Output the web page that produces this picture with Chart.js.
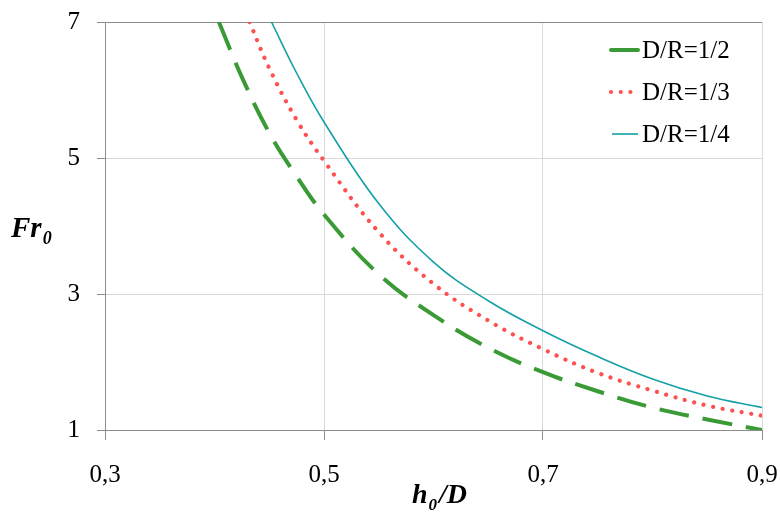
<!DOCTYPE html>
<html>
<head>
<meta charset="utf-8">
<script src="https://cdn.jsdelivr.net/npm/chart.js@4.4.1/dist/chart.umd.min.js"></script>
<style>
  html, body { margin: 0; padding: 0; background: #ffffff; }
  #wrap { width: 780px; height: 512px; }
</style>
</head>
<body>
<div id="wrap"><canvas id="c" width="780" height="512"></canvas></div>
<script>
// ---- data ----
const xTicks = [0.3, 0.5, 0.7, 0.9];
const yTicks = [1, 3, 5, 7];

const seriesLabels = ['D/R=1/2', 'D/R=1/3', 'D/R=1/4'];

const hD_half  = [0.404, 0.425, 0.45, 0.475, 0.5, 0.55, 0.6, 0.65, 0.7, 0.75, 0.8, 0.85, 0.9];
const fr_half  = [7.0,   6.19,  5.37, 4.73,  4.17, 3.29, 2.69, 2.21, 1.85, 1.57, 1.33, 1.155, 1.0];

const hD_third = [0.432, 0.45, 0.475, 0.5, 0.55, 0.6, 0.65, 0.7, 0.75, 0.8, 0.85, 0.9];
const fr_third = [7.0,   6.32, 5.56,  4.96, 3.91, 3.15, 2.61, 2.19, 1.84, 1.58, 1.36, 1.21];

const hD_quarter = [0.452, 0.475, 0.5, 0.55, 0.6, 0.65, 0.7, 0.75, 0.8, 0.85, 0.9];
const fr_quarter = [7.0,   6.25,  5.53, 4.33, 3.47, 2.90, 2.46, 2.08, 1.75, 1.50, 1.33];

// ---- styles ----
const GREEN = '#3a9a35';
const RED = '#ff5050';
const TEAL = '#15a0a6';
const AXIS = '#8c8c8c';
const GRID = '#d9d9d9';
const SERIF = '"Liberation Serif", "DejaVu Serif", serif';

function pts(xs, ys) { return xs.map((x, i) => ({ x: x, y: ys[i] })); }

const datasets = [
  { label: seriesLabels[0], data: pts(hD_half, fr_half), borderColor: GREEN, borderWidth: 4,
    borderDash: [30, 14], borderCapStyle: 'butt' },
  { label: seriesLabels[1], data: pts(hD_third, fr_third), borderColor: RED, borderWidth: 4.2,
    borderDash: [0.01, 9.7], borderCapStyle: 'round' },
  { label: seriesLabels[2], data: pts(hD_quarter, fr_quarter), borderColor: TEAL, borderWidth: 1.6,
    borderCapStyle: 'butt' }
];
datasets.forEach(d => { d.pointRadius = 0; d.fill = false; d.tension = 0.4; });

const annotations = {
  id: 'annotations',
  afterDraw(chart) {
    const ctx = chart.ctx;
    ctx.save();
    ctx.fillStyle = '#000';
    ctx.textBaseline = 'alphabetic';
    ctx.textAlign = 'left';
    // y title Fr0
    ctx.font = 'bold italic 29px ' + SERIF;
    ctx.fillText('Fr', 11, 237);
    let w = ctx.measureText('Fr').width;
    ctx.font = 'bold italic 18px ' + SERIF;
    ctx.fillText('0', 11 + w + 1, 244);
    // x title h0/D
    ctx.font = 'bold italic 28px ' + SERIF;
    ctx.fillText('h', 412, 503);
    let wh = ctx.measureText('h').width;
    ctx.font = 'bold italic 17px ' + SERIF;
    ctx.fillText('0', 412 + wh + 1, 510);
    let w0 = ctx.measureText('0').width;
    ctx.font = 'bold italic 28px ' + SERIF;
    ctx.fillText('/D', 412 + wh + w0 + 3, 503);

    // legend inside plot
    const rows = [50, 92, 134];
    const x0 = 609, x1 = 640, tx = 642;
    chart.data.datasets.forEach((ds, i) => {
      const y = rows[i];
      ctx.save();
      ctx.strokeStyle = ds.borderColor;
      ctx.lineWidth = ds.borderWidth;
      if (i === 1) {
        ctx.lineCap = 'round';
        ctx.setLineDash([0.01, 9.7]);
        ctx.beginPath(); ctx.moveTo(x0 + 2, y); ctx.lineTo(x1 - 4, y); ctx.stroke();
      } else {
        ctx.lineCap = i === 0 ? 'round' : 'butt';
        ctx.beginPath(); ctx.moveTo(x0 + (i === 0 ? 2 : 3), y); ctx.lineTo(x1 - 2, y); ctx.stroke();
      }
      ctx.restore();
      ctx.font = '25px ' + SERIF;
      ctx.fillStyle = '#000';
      ctx.textBaseline = 'middle';
      ctx.fillText(ds.label, tx, y + 1);
    });
    ctx.restore();
  }
};

new Chart(document.getElementById('c'), {
  type: 'line',
  data: { datasets: datasets },
  options: {
    responsive: false,
    animation: false,
    devicePixelRatio: 1,
    layout: { padding: { top: 22, right: 18, left: 0, bottom: 0 } },
    plugins: { legend: { display: false }, tooltip: { enabled: false }, title: { display: false } },
    scales: {
      x: {
        type: 'linear', min: 0.3, max: 0.9,
        afterBuildTicks(scale) { scale.ticks = xTicks.map(v => ({ value: v })); },
        afterFit(scale) { scale.height = 82; scale.paddingLeft = 0; scale.paddingRight = 0; },
        ticks: {
          callback: v => v.toFixed(1).replace('.', ','),
          font: { family: SERIF, size: 25 }, color: '#000', padding: 20, maxRotation: 0, autoSkip: false
        },
        grid: {
          color: ctx => (ctx.tick && Math.abs(ctx.tick.value - 0.3) < 1e-6) ? AXIS : GRID,
          tickColor: AXIS, tickLength: 10, lineWidth: 1
        },
        border: { color: AXIS, width: 1 }
      },
      y: {
        type: 'linear', min: 1, max: 7,
        afterBuildTicks(scale) { scale.ticks = yTicks.map(v => ({ value: v })); },
        afterFit(scale) { scale.width = 105; scale.paddingTop = 0; scale.paddingBottom = 0; },
        ticks: {
          callback: v => String(v),
          font: { family: SERIF, size: 25 }, color: '#000', padding: 17, autoSkip: false
        },
        grid: {
          color: ctx => (ctx.tick && ctx.tick.value === 7) ? AXIS : GRID,
          tickColor: AXIS, tickLength: 8, lineWidth: 1
        },
        border: { color: AXIS, width: 1 }
      }
    }
  },
  plugins: [annotations]
});
</script>
</body>
</html>
